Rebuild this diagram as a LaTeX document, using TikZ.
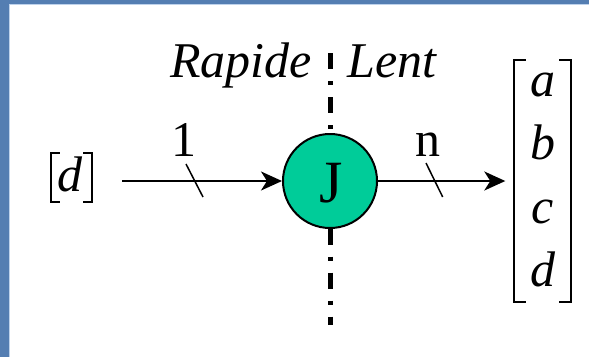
\documentclass[tikz,border=0pt]{standalone}
\usepackage{fontspec}
\setmainfont{Liberation Serif}
\usetikzlibrary{arrows.meta}
\definecolor{bgblue}{RGB}{84,126,178}
\definecolor{edgeblue}{RGB}{190,210,235}
\definecolor{jgreen}{RGB}{0,204,153}
\begin{document}
\begin{tikzpicture}[x=1pt,y=-1pt,
  txt/.style={inner sep=0pt, font=\fontsize{50}{58}\selectfont},
  itxt/.style={inner sep=0pt, font=\fontsize{50}{58}\selectfont\itshape},
  flow/.style={line width=2pt, -{Stealth[length=21pt,width=19pt,inset=6pt]}},
  tickmark/.style={line width=1.5pt},
  brk/.style={line width=2.2pt, line cap=butt, line join=miter},
  sepline/.style={line width=5pt, dash pattern=on 16pt off 12pt on 4pt off 12pt}]
\useasboundingbox (0,0) rectangle (589,357);
% background
\fill[bgblue] (0,0) rectangle (589,357);
\fill[white] (9,4) rectangle (589,357);
\draw[edgeblue, line width=1pt] (9.5,357) -- (9.5,4.5) -- (589,4.5);
% separator
\coordinate (s1) at (330,53.3);
\coordinate (s2) at (330,133);
\coordinate (s3) at (330,228.5);
\coordinate (s4) at (330,325);
\draw[sepline] (s1) -- (s2);
\draw[sepline] (s3) -- (s4);
% labels
\node[itxt, anchor=base] (rap) at (241,77.3) {Rapide};
\node[itxt, anchor=base] (lent) at (392,77.3) {Lent};
% input
\node[minimum width=41pt, minimum height=49pt, inner sep=0pt] (D) at (71.5,177.5) {};
\node[itxt, anchor=base] (dtxt) at (70,191.7) {d};
\draw[brk] ([xshift=9pt]D.north west) -- (D.north west) -- (D.south west) -- ([xshift=9pt]D.south west);
\draw[brk] ([xshift=-9pt]D.north east) -- (D.north east) -- (D.south east) -- ([xshift=-9pt]D.south east);
\coordinate (inR) at (122,181);
% junction
\node[circle, draw, line width=2pt, fill=jgreen, minimum size=94pt, inner sep=0pt] (J) at (330,181) {};
\node[inner sep=0pt, anchor=base, font=\fontsize{60}{70}\selectfont] (Jtxt) at (331,202) {J};
% output matrix
\node[minimum width=57pt, minimum height=241pt, inner sep=0pt] (M) at (542.5,181) {};
\draw[brk] ([xshift=12pt]M.north west) -- (M.north west) -- (M.south west) -- ([xshift=12pt]M.south west);
\draw[brk] ([xshift=-12pt]M.north east) -- (M.north east) -- (M.south east) -- ([xshift=-12pt]M.south east);
\node[itxt, anchor=base] (ma) at (543,96) {a};
\node[itxt, anchor=base] (mb) at (543,159.5) {b};
\node[itxt, anchor=base] (mc) at (543,223) {c};
\node[itxt, anchor=base] (md) at (543,286.5) {d};
% connectors
\draw[flow] (inR) -- (J);
\draw[flow, shorten >=8.5pt] (J) -- (M);
\draw[tickmark] (186,164) -- (203,197);
\draw[tickmark] (426,163) -- (442.7,197);
\node[txt, anchor=base] (one) at (184,156.7) {1};
\node[txt, anchor=base] (en) at (427.5,156) {n};
\end{tikzpicture}
\end{document}
